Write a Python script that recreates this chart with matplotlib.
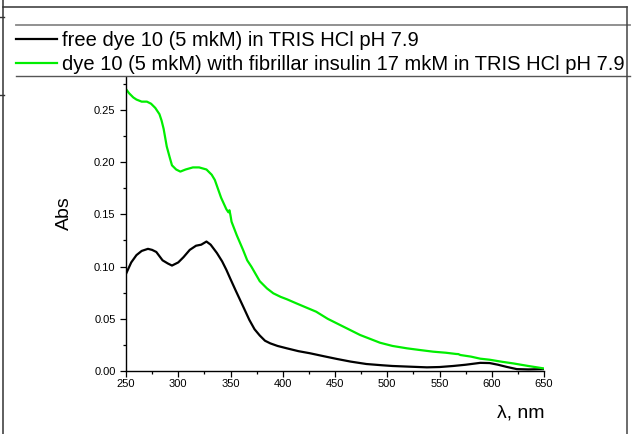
import matplotlib
matplotlib.use("Agg")
import matplotlib.pyplot as plt
from matplotlib.lines import Line2D
from matplotlib.ticker import MultipleLocator

plt.rcParams['font.family'] = ['Liberation Sans', 'DejaVu Sans']

# ---- data ----
wl_free = [250, 255, 260, 265, 271, 275, 279, 285, 290, 294, 300, 305, 311, 317,
           322, 327, 331, 337, 342, 346, 350, 355, 362, 368, 373, 378, 383, 388,
           395, 404, 415, 426, 440, 452, 465, 480, 495, 505, 520, 538, 550, 563,
           575, 589, 598, 606, 614, 624, 635, 650]
abs_free = [0.093, 0.104, 0.111, 0.115, 0.117, 0.116, 0.114, 0.106, 0.103, 0.101,
            0.104, 0.109, 0.116, 0.120, 0.121, 0.124, 0.121, 0.113, 0.105, 0.097,
            0.088, 0.077, 0.062, 0.049, 0.040, 0.034, 0.029, 0.0265, 0.024, 0.0217,
            0.019, 0.017, 0.014, 0.0115, 0.009, 0.0067, 0.0055, 0.0048, 0.0042,
            0.0035, 0.0038, 0.0048, 0.006, 0.0078, 0.0076, 0.006, 0.004, 0.0018,
            0.0015, 0.0018]

wl_fib = [250, 253, 257, 260, 265, 270, 274, 278, 282, 284, 286, 289, 292, 294,
          298, 302, 307, 314, 320, 327, 332, 335, 341, 346, 348, 349, 350, 351,
          356, 362, 366, 370, 378, 385, 391, 398, 404, 413, 422, 432, 443, 455,
          465, 474, 483, 493, 505, 519, 532, 544, 556, 566, 568, 570, 580, 589,
          598, 610, 621, 635, 649]
abs_fib = [0.270, 0.266, 0.262, 0.260, 0.258, 0.258, 0.256, 0.252, 0.246, 0.240,
           0.232, 0.215, 0.204, 0.197, 0.193, 0.191, 0.193, 0.195, 0.195, 0.193,
           0.188, 0.183, 0.166, 0.155, 0.152, 0.154, 0.149, 0.143, 0.130, 0.116,
           0.106, 0.0999, 0.086, 0.079, 0.0744, 0.071, 0.0687, 0.0648, 0.061,
           0.0568, 0.050, 0.044, 0.039, 0.0345, 0.031, 0.0271, 0.024, 0.0217,
           0.020, 0.0185, 0.0175, 0.0163, 0.0162, 0.0153, 0.0138, 0.0118, 0.0108,
           0.0088, 0.0072, 0.0048, 0.0026]

labels = ["free dye 10 (5 mkM) in TRIS HCl pH 7.9",
          "dye 10 (5 mkM) with fibrillar insulin 17 mkM in TRIS HCl pH 7.9"]
colors = ["black", "#00ee00"]
x_ticks = [250, 300, 350, 400, 450, 500, 550, 600, 650]
y_ticks = [0.00, 0.05, 0.10, 0.15, 0.20, 0.25]

W, H = 637, 434
fig = plt.figure(figsize=(W / 100, H / 100), dpi=100)

def fx(x):
    return x / W

def fy(y):
    return 1 - y / H

ax = fig.add_axes([fx(126), fy(371), fx(544) - fx(126), fy(77) - fy(371)])
ax.plot(wl_free, abs_free, color=colors[0], lw=1.6)
ax.plot(wl_fib, abs_fib, color=colors[1], lw=1.6)
ax.set_xlim(250, 650)
ax.set_ylim(0, 0.2816)
for s in ['top', 'right']:
    ax.spines[s].set_visible(False)
for s in ['left', 'bottom']:
    ax.spines[s].set_linewidth(1.0)
ax.set_xticks(x_ticks)
ax.set_xticklabels([str(v) for v in x_ticks])
ax.set_yticks(y_ticks)
ax.set_yticklabels([f"{v:.2f}" for v in y_ticks])
ax.xaxis.set_minor_locator(MultipleLocator(25))
ax.yaxis.set_minor_locator(MultipleLocator(0.025))
ax.tick_params(axis='both', which='major', direction='out', length=4, width=0.9,
               labelsize=8, pad=1.5)
ax.tick_params(axis='both', which='minor', direction='out', length=2.5, width=0.9)
ax.tick_params(axis='y', which='major', length=4.5, pad=3)

fig.text(fx(64), fy(213), "Abs", rotation=90, ha='center', va='center', fontsize=14)
fig.text(fx(497), fy(417), "\u03bb, nm", ha='left', va='baseline', fontsize=14)

# legend block
fig.add_artist(Line2D([fx(16), fx(57)], [fy(39), fy(39)], color=colors[0], lw=1.6))
fig.add_artist(Line2D([fx(16), fx(57)], [fy(63), fy(63)], color=colors[1], lw=1.6))
fig.text(fx(62), fy(46), labels[0], ha='left', va='baseline', fontsize=14.5)
fig.text(fx(62), fy(70), labels[1], ha='left', va='baseline', fontsize=14.5)
fig.add_artist(Line2D([fx(16), fx(630)], [fy(25), fy(25)], color='#888888', lw=1.3))
fig.add_artist(Line2D([fx(16), fx(630)], [fy(76), fy(76)], color='#555555', lw=1.0))

# outer frame
fig.add_artist(Line2D([fx(2.5), fx(627)], [fy(7), fy(7)], color='#333333', lw=1.1))
fig.add_artist(Line2D([fx(2.5), fx(2.5)], [fy(0), fy(434)], color='#333333', lw=1.1))
fig.add_artist(Line2D([fx(627), fx(627)], [fy(7), fy(434)], color='#444444', lw=1.1))
fig.add_artist(Line2D([fx(0), fx(4)], [fy(17), fy(17)], color='#333333', lw=1.0))
fig.add_artist(Line2D([fx(0), fx(4)], [fy(95), fy(95)], color='#333333', lw=1.0))

fig.savefig("out.png", dpi=100)
